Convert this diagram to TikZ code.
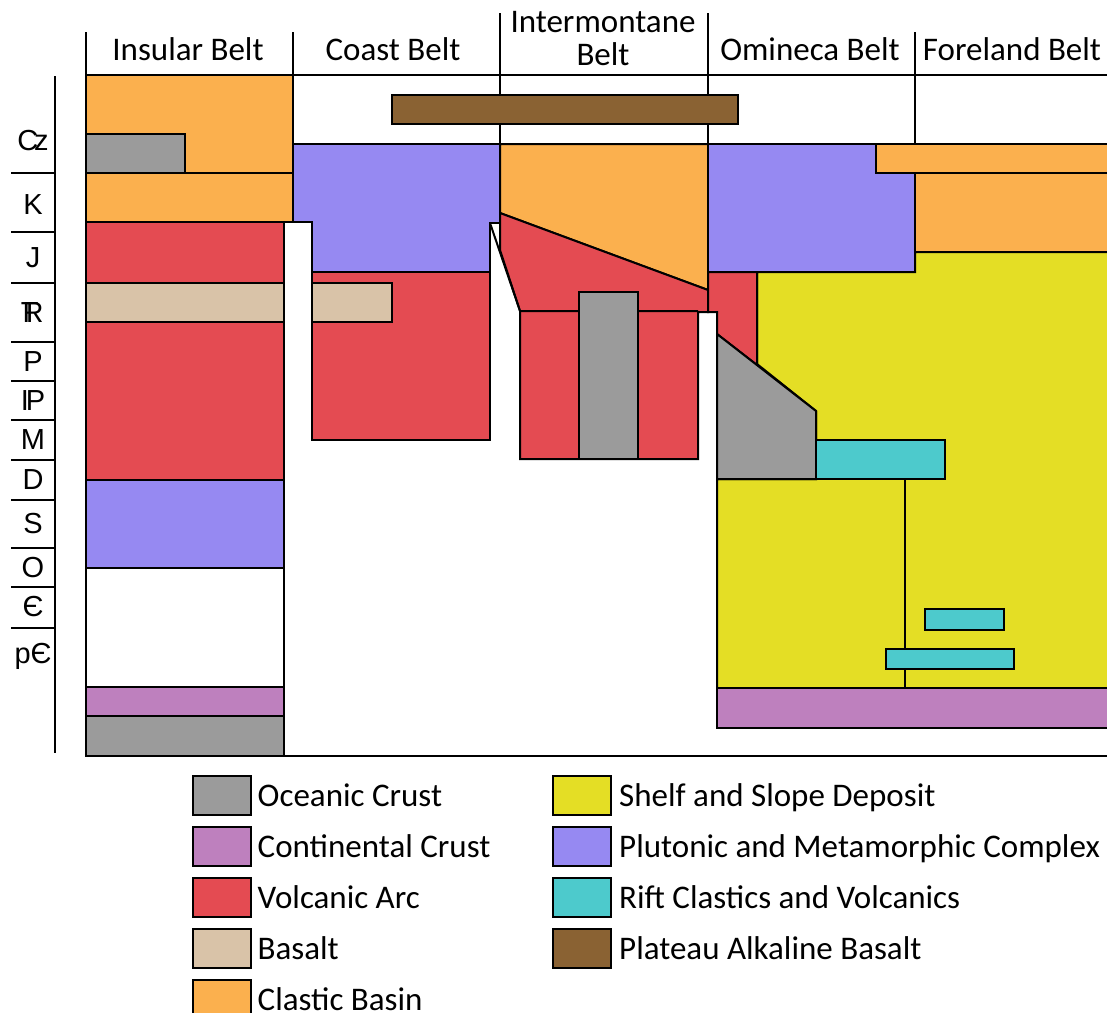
\documentclass[tikz,border=0pt]{standalone}
\usepackage{fontspec}
\setmainfont{Carlito}
\newfontfamily\agefont{Liberation Sans}
\usetikzlibrary{positioning}
\definecolor{clastic}{RGB}{251,176,78}
\definecolor{oceanic}{RGB}{155,155,155}
\definecolor{arc}{RGB}{228,75,82}
\definecolor{basalt}{RGB}{217,195,168}
\definecolor{pluton}{RGB}{150,137,242}
\definecolor{continent}{RGB}{190,128,190}
\definecolor{shelf}{RGB}{228,222,37}
\definecolor{rift}{RGB}{77,202,204}
\definecolor{plateau}{RGB}{138,98,51}
\tikzset{unit/.style = {draw=black, line width=2pt, line join=miter}}
\tikzset{belt/.style = {font=\fontsize{33}{33}\selectfont, align=center, inner sep=0pt, anchor=base}}
\tikzset{age/.style = {font=\agefont\fontsize{29}{30}\selectfont, inner sep=0pt, text height=21pt, text depth=0pt}}
\tikzset{legbox/.style = {draw=black, line width=2pt, minimum width=58pt, minimum height=39pt, inner sep=0pt}}
\tikzset{legtext/.style = {font=\fontsize{33}{33}\selectfont, inner sep=0pt, text height=22pt, text depth=0pt}}

\begin{document}
\begin{tikzpicture}[x=1pt, y=-1pt]
\useasboundingbox (0,0) rectangle (1107,1012);
\clip (0,0) rectangle (1107,1012);
\fill[white] (0,0) rectangle (1107,1012);

% Insular Belt
\filldraw[unit, fill=clastic] (86,75) rectangle (293,222);
\filldraw[unit, fill=oceanic] (86,134) rectangle (185,173);
\draw[unit] (86,173) -- (293,173);
\filldraw[unit, fill=arc] (86,222) rectangle (284,480);
\draw[unit] (284,222) -- (312,222);
\filldraw[unit, fill=basalt] (86,283) rectangle (284,322);
\filldraw[unit, fill=pluton] (86,480) rectangle (284,568);
\draw[unit] (86,568) rectangle (284,687);
\filldraw[unit, fill=continent] (86,687) rectangle (284,716);
\filldraw[unit, fill=oceanic] (86,716) rectangle (284,756);

% Coast Belt
\filldraw[unit, fill=pluton] (293,144) -- (500,144) -- (500,223) -- (490,223) -- (490,272) -- (312,272) -- (312,222) -- (293,222) -- cycle;
\filldraw[unit, fill=arc] (312,272) rectangle (490,440);
\filldraw[unit, fill=basalt] (312,283) rectangle (392,322);

% Intermontane Belt
\filldraw[unit, fill=clastic] (500,144) -- (708,144) -- (708,290) -- (500,213) -- cycle;
\filldraw[unit, fill=arc] (500,213) -- (708,290) -- (708,312) -- (698,312) -- (698,459) -- (520,459) -- (520,311) -- (500,250) -- cycle;
\draw[unit] (490,223) -- (520,311) -- (698,311);
\filldraw[unit, fill=oceanic] (579,292) rectangle (638,459);

% Omineca and Foreland Belts
\filldraw[unit, fill=shelf] (915,252) -- (1112,252) -- (1112,688) -- (717,688) -- (717,479) -- (816,479) -- (816,411) -- (757,364) -- (757,272) -- (915,272) -- cycle;
\filldraw[unit, fill=pluton] (708,144) -- (876,144) -- (876,173) -- (915,173) -- (915,272) -- (708,272) -- cycle;
\filldraw[unit, fill=clastic] (876,144) -- (1112,144) -- (1112,252) -- (915,252) -- (915,173) -- (876,173) -- cycle;
\draw[unit] (915,173) -- (1112,173);
\filldraw[unit, fill=arc] (708,272) -- (757,272) -- (757,365) -- (717,334) -- (717,312) -- (708,312) -- cycle;
\filldraw[unit, fill=oceanic] (717,334) -- (816,411) -- (816,479) -- (717,479) -- cycle;
\filldraw[unit, fill=rift] (816,440) rectangle (945,479);
\draw[unit] (905,479) -- (905,688);
\filldraw[unit, fill=rift] (925,609) rectangle (1004,630);
\filldraw[unit, fill=rift] (886,649) rectangle (1014,669);
\filldraw[unit, fill=continent] (717,688) rectangle (1112,728);

% frame and belt headers
\draw[unit] (86,75) -- (1112,75);
\draw[unit] (293,144) -- (1112,144);
\draw[unit] (86,32) -- (86,756) -- (1112,756);
\draw[unit] (293,32) -- (293,222);
\draw[unit] (500,13) -- (500,144);
\draw[unit] (708,13) -- (708,144);
\draw[unit] (915,32) -- (915,144);
\filldraw[unit, fill=plateau] (392,95) rectangle (738,124);

\node[belt] (insular) at (188,60) {Insular Belt};
\node[belt] (coast) at (393,60) {Coast Belt};
\node[belt] (intermontane) at (603,65) {Intermontane\\Belt};
\node[belt] (omineca) at (810,60) {Omineca Belt};
\node[belt] (foreland) at (1012,60) {Foreland Belt};

% time scale
\draw[unit] (55,76) -- (55,753);
\foreach \t in {173,232,283,342,381,420,460,500,548,587,628}
  \draw[unit] (11,\t) -- (55,\t);
\node[age] (cz) at (33,140) {C\kern-0.14em z};
\node[age] (k) at (33,204) {K};
\node[age] (j) at (33,257) {J};
\node[age] (tr) at (33,312) {\rlap{\kern-0.06em T}R};
\node[age] (p) at (33,361) {P};
\node[age] (ip) at (33,400) {I\kern-0.1em P};
\node[age] (m) at (33,439) {M};
\node[age] (d) at (33,479) {D};
\node[age] (s) at (33,523) {S};
\node[age] (o) at (33,567) {O};
\node[age] (cm) at (33,606) {Є};
\node[age] (pcm) at (33,653) {pЄ};

% legend
\node[legbox, fill=oceanic] (k1) at (221.5,795) {};
\node[legbox, fill=continent, below=10pt of k1] (k2) {};
\node[legbox, fill=arc, below=10pt of k2] (k3) {};
\node[legbox, fill=basalt, below=10pt of k3] (k4) {};
\node[legbox, fill=clastic, below=10pt of k4] (k5) {};
\node[legbox, fill=shelf] (k6) at (582,795) {};
\node[legbox, fill=pluton, below=10pt of k6] (k7) {};
\node[legbox, fill=rift, below=10pt of k7] (k8) {};
\node[legbox, fill=plateau, below=10pt of k8] (k9) {};

\node[legtext, right=6pt of k1] (t1) {Oceanic Crust};
\node[legtext, right=6pt of k2] (t2) {Continental Crust};
\node[legtext, right=6pt of k3] (t3) {Volcanic Arc};
\node[legtext, right=6pt of k4] (t4) {Basalt};
\node[legtext, right=6pt of k5] (t5) {Clastic Basin};
\node[legtext, right=7pt of k6] (t6) {Shelf and Slope Deposit};
\node[legtext, right=7pt of k7] (t7) {Plutonic and Metamorphic Complex};
\node[legtext, right=7pt of k8] (t8) {Rift Clastics and Volcanics};
\node[legtext, right=7pt of k9] (t9) {Plateau Alkaline Basalt};
\end{tikzpicture}
\end{document}
